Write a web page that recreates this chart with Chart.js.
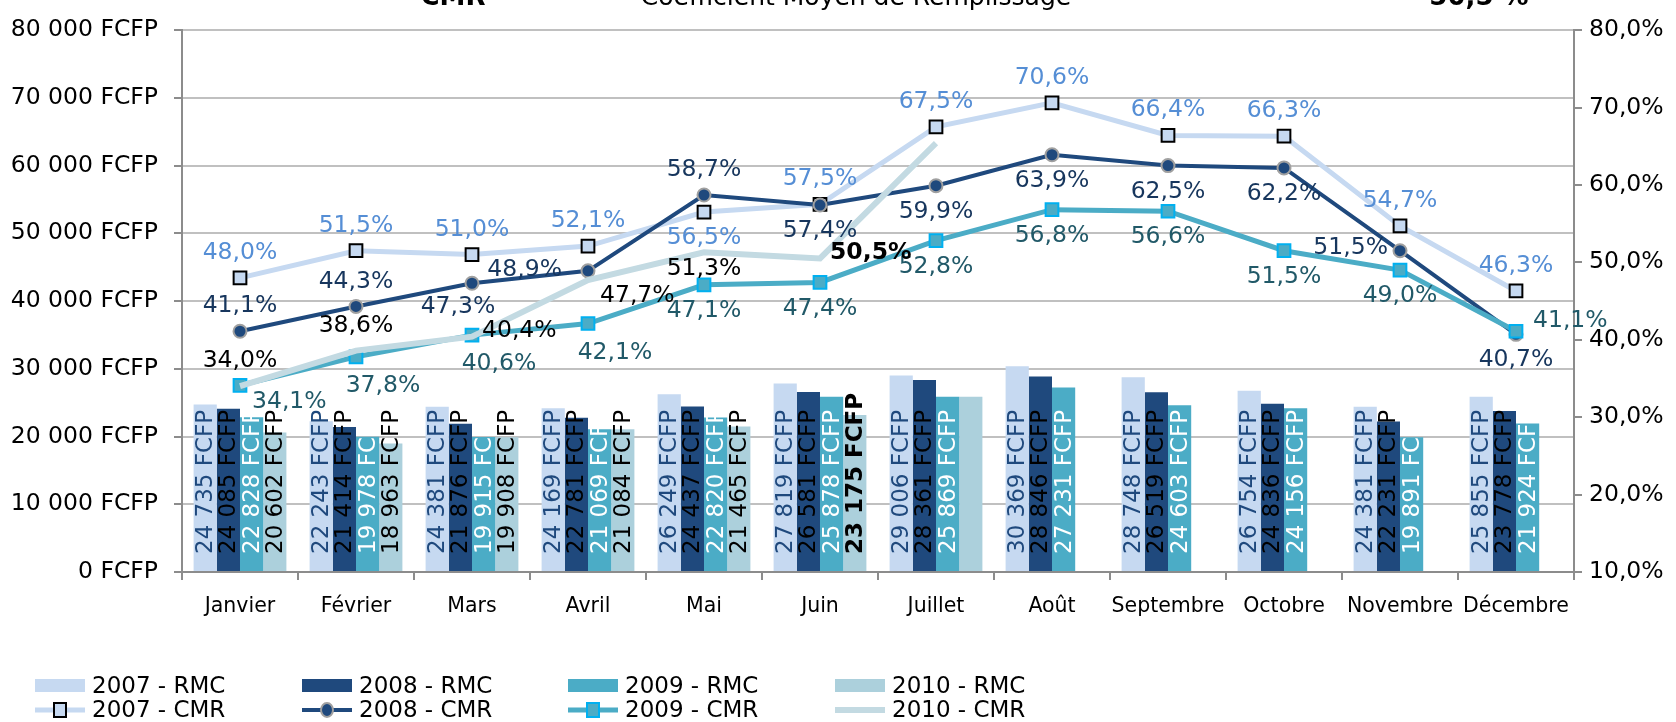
<!DOCTYPE html>
<html>
<head>
<meta charset="utf-8">
<script src="https://cdn.jsdelivr.net/npm/chart.js@4.4.1/dist/chart.umd.min.js"></script>
<style>
  html, body { margin: 0; padding: 0; background: #fff; }
</style>
</head>
<body>
<canvas id="cmrChart" width="1676" height="722"></canvas>
<script>
const months = ["Janvier", "Février", "Mars", "Avril", "Mai", "Juin", "Juillet", "Août", "Septembre", "Octobre", "Novembre", "Décembre"];

// RMC (FCFP)
const rmc2007 = [24735, 22243, 24381, 24169, 26249, 27819, 29006, 30369, 28748, 26754, 24381, 25855];
const rmc2008 = [24085, 21414, 21876, 22781, 24437, 26581, 28361, 28846, 26519, 24836, 22231, 23778];
const rmc2009 = [22828, 19978, 19915, 21069, 22820, 25878, 25869, 27231, 24603, 24156, 19891, 21924];
const rmc2010 = [20602, 18963, 19908, 21084, 21465, 23175, 25869, null, null, null, null, null];

// CMR (%)
const cmr2007 = [48.0, 51.5, 51.0, 52.1, 56.5, 57.5, 67.5, 70.6, 66.4, 66.3, 54.7, 46.3];
const cmr2008 = [41.1, 44.3, 47.3, 48.9, 58.7, 57.4, 59.9, 63.9, 62.5, 62.2, 51.5, 40.7];
const cmr2009 = [34.1, 37.8, 40.6, 42.1, 47.1, 47.4, 52.8, 56.8, 56.6, 51.5, 49.0, 41.1];
const cmr2010 = [34.0, 38.6, 40.4, 47.7, 51.3, 50.5, 65.4, null, null, null, null, null];

const titleLeft = "CMR";
const titleMid = "Coefficient Moyen de Remplissage";
const titleRight = "50,5 %";

// where each percentage label sits relative to its point
const pos2007 = ["above", "above", "above", "above", "below", "above", "above", "above", "above", "above", "above", "above"];
const pos2008 = ["above", "above", "belowLeft", "leftFar", "above", "below", "below", "below", "below", "below", "left", "below"];
const pos2009 = ["rightLow", "belowRight", "belowRight", "belowRight", "below", "below", "below", "below", "below", "below", "below", "rightHigh"];
const pos2010 = ["above", "above", "right", "rightLow", "belowNear", "right", "none"];

const FONT = "DejaVu Sans";
Chart.defaults.font.family = FONT;

function fcfp(v) {
    return String(v).replace(/\B(?=(\d{3})+(?!\d))/g, " ") + " FCFP";
}
function pct(v) {
    return Number(v).toFixed(1).replace(".", ",") + "%";
}

const offsets = {
    above: {dx: 0, dy: -25, align: "center"},
    below: {dx: 0, dy: 26, align: "center"},
    belowNear: {dx: 0, dy: 17, align: "center"},
    left: {dx: -12, dy: -3, align: "right"},
    leftFar: {dx: -26, dy: -1, align: "right"},
    right: {dx: 10, dy: -6, align: "left"},
    rightLow: {dx: 12, dy: 16, align: "left"},
    rightHigh: {dx: 17, dy: -10, align: "left"},
    belowRight: {dx: 27, dy: 29, align: "center"},
    belowLeft: {dx: -14, dy: 24, align: "center"}
};

const labelPlugin = {
    id: "valueLabels",
    afterDatasetsDraw(chart) {
        let ctx = chart.ctx;
        chart.data.datasets.forEach((ds, i) => {
            let meta = chart.getDatasetMeta(i);
            meta.data.forEach((el, j) => {
                let v = ds.data[j];
                if (v == null) return;
                ctx.save();
                ctx.fillStyle = ds.labelColor;
                let bold = ds.boldIndex === j ? "bold " : "";
                if (ds.type === "line") {
                    let p = ds.labelPos[j];
                    if (!p || p === "none") { ctx.restore(); return; }
                    let o = offsets[p];
                    ctx.font = bold + "23.5px '" + FONT + "'";
                    ctx.textAlign = o.align;
                    ctx.textBaseline = "middle";
                    ctx.fillText(pct(v), el.x + o.dx, el.y + o.dy);
                } else {
                    if (ds.noLabel && ds.noLabel.includes(j)) { ctx.restore(); return; }
                    ctx.font = bold + "23px '" + FONT + "'";
                    ctx.translate(el.x, el.base - 17);
                    ctx.rotate(-Math.PI / 2);
                    ctx.textAlign = "left";
                    ctx.textBaseline = "middle";
                    ctx.fillText(fcfp(v), 0, 1);
                }
                ctx.restore();
            });
        });
    }
};

const titlePlugin = {
    id: "cutTitle",
    afterDraw(chart) {
        let ctx = chart.ctx;
        ctx.save();
        ctx.fillStyle = "#000";
        ctx.textBaseline = "alphabetic";
        ctx.textAlign = "center";
        ctx.font = "bold 26px '" + FONT + "'";
        ctx.fillText(titleLeft, 453, 5);
        ctx.fillText(titleRight, 1479, 5);
        ctx.font = "25px '" + FONT + "'";
        ctx.fillText(titleMid, 856, 5);
        ctx.restore();
    }
};

// legend drawn by hand: 4 columns, bars on row 1, lines on row 2
const legendPlugin = {
    id: "gridLegend",
    afterDraw(chart) {
        let ctx = chart.ctx;
        let colX = [35, 302, 568, 835];
        let rowY = [686, 710];
        chart.data.datasets.forEach((ds, i) => {
            let x = colX[i % 4];
            let y = rowY[Math.floor(i / 4)];
            ctx.save();
            if (ds.type === "line") {
                ctx.strokeStyle = ds.borderColor;
                ctx.lineWidth = ds.borderWidth;
                ctx.beginPath();
                ctx.moveTo(x, y);
                ctx.lineTo(x + 50, y);
                ctx.stroke();
                if (ds.pointRadius > 0) {
                    ctx.fillStyle = ds.pointBackgroundColor;
                    ctx.strokeStyle = ds.pointBorderColor;
                    ctx.lineWidth = ds.pointBorderWidth;
                    ctx.beginPath();
                    if (ds.pointStyle === "rect") {
                        ctx.rect(x + 25 - 6, y - 7, 12, 14);
                    } else {
                        ctx.ellipse(x + 25, y, 6, 7, 0, 0, Math.PI * 2);
                    }
                    ctx.fill();
                    ctx.stroke();
                }
            } else {
                ctx.fillStyle = ds.backgroundColor;
                ctx.fillRect(x, y - 7, 50, 13);
            }
            ctx.fillStyle = "#000";
            ctx.font = "23px '" + FONT + "'";
            ctx.textAlign = "left";
            ctx.textBaseline = "middle";
            ctx.fillText(ds.label, x + 57, y + 1);
            ctx.restore();
        });
    }
};

function barSet(label, data, color, labelColor, order) {
    return {
        type: "bar", label: label, data: data, yAxisID: "y", order: order,
        backgroundColor: color, borderWidth: 0,
        categoryPercentage: 0.8, barPercentage: 1.0,
        labelColor: labelColor
    };
}

function lineSet(label, data, color, width, style, radius, fill, border, borderW, labelColor, labelPos, order) {
    return {
        type: "line", label: label, data: data, yAxisID: "y1", order: order,
        borderColor: color, borderWidth: width, tension: 0, fill: false,
        pointStyle: style, pointRadius: radius,
        pointBackgroundColor: fill, pointBorderColor: border, pointBorderWidth: borderW,
        labelColor: labelColor, labelPos: labelPos
    };
}

let datasets = [
    barSet("2007 - RMC", rmc2007, "#C6D9F1", "#1F497D", 5),
    barSet("2008 - RMC", rmc2008, "#1F497D", "#000000", 6),
    barSet("2009 - RMC", rmc2009, "#4BACC6", "#FFFFFF", 7),
    barSet("2010 - RMC", rmc2010, "#ACD0DC", "#000000", 8),
    lineSet("2007 - CMR", cmr2007, "#C6D9F1", 5, "rect", 9, "#C6D9F1", "#000000", 2, "#558ED5", pos2007, 4),
    lineSet("2008 - CMR", cmr2008, "#1F497D", 4, "circle", 6.5, "#1F497D", "#A0A0A0", 2, "#17365D", pos2008, 3),
    lineSet("2009 - CMR", cmr2009, "#4BACC6", 5, "rect", 9, "#4BACC6", "#00B0F0", 2, "#215968", pos2009, 2),
    lineSet("2010 - CMR", cmr2010, "#C3DAE2", 6, "circle", 0, "#C3DAE2", "#C3DAE2", 0, "#000000", pos2010, 1)
];
datasets[3].noLabel = [6];
datasets[3].boldIndex = 5;
datasets[7].boldIndex = 5;

new Chart(document.getElementById("cmrChart"), {
    type: "bar",
    data: { labels: months, datasets: datasets },
    options: {
        responsive: false,
        animation: false,
        layout: { padding: { top: 26, bottom: 0, left: 0, right: 0 } },
        plugins: { legend: { display: false }, tooltip: { enabled: false } },
        scales: {
            x: {
                offset: true,
                grid: { offset: true, drawOnChartArea: false, drawTicks: true, tickLength: 8, color: "#8C8C8C", lineWidth: 2 },
                border: { display: true, color: "#8C8C8C", width: 2 },
                ticks: { color: "#000", font: { size: 20.5 }, padding: 14, maxRotation: 0, autoSkip: false },
                afterFit: s => { s.height = 150; }
            },
            y: {
                position: "left", min: 0, max: 80000,
                ticks: { stepSize: 10000, callback: v => fcfp(v), color: "#000", font: { size: 23.5 }, padding: 16 },
                grid: { color: "#C0C0C0", lineWidth: 2, tickLength: 8, tickColor: "#8C8C8C" },
                border: { color: "#8C8C8C", width: 2 },
                afterFit: s => { s.width = 182; }
            },
            y1: {
                position: "right", min: 10, max: 80,
                ticks: { stepSize: 10, callback: v => pct(v), color: "#000", font: { size: 23.5 }, padding: 7 },
                grid: { drawOnChartArea: false, tickLength: 8, color: "#8C8C8C", lineWidth: 2 },
                border: { color: "#8C8C8C", width: 2 },
                afterFit: s => { s.width = 102; }
            }
        }
    },
    plugins: [labelPlugin, titlePlugin, legendPlugin]
});
</script>
</body>
</html>
